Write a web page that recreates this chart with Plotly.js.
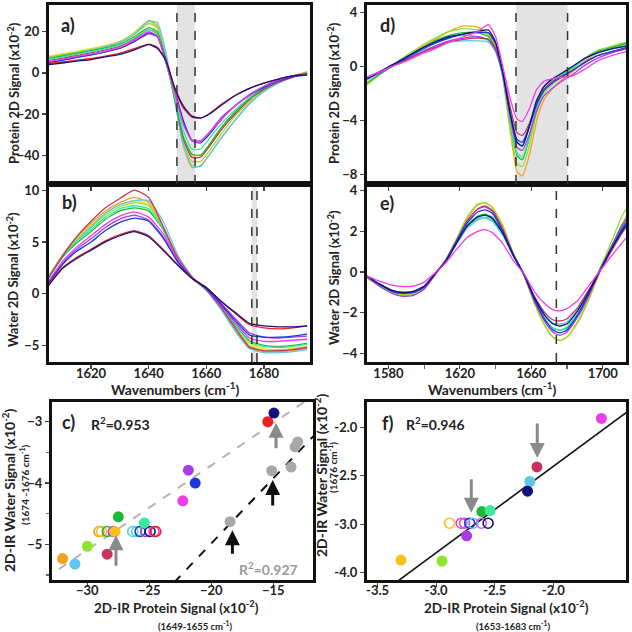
<!DOCTYPE html>
<html><head><meta charset="utf-8">
<script src="https://cdn.plot.ly/plotly-3.0.1.min.js"></script>
<style>html,body{margin:0;padding:0;background:#fff}#chart{width:632px;height:632px}</style>
</head><body><div id="chart"></div>
<script>
// ---------- Panel a: protein spectra (x10^-2) ----------
const A_X = [1605,1610,1615,1620,1625,1630,1635,1640,1643,1646,1649,1652,1655,1658,1661,1665,1670,1675,1680,1685,1690,1695];
const A_orange = [7.5,8.7,10,11.3,13,15.2,19.5,25.5,23,7,-13,-35,-46,-45,-40,-32,-23,-15,-9,-5,-2,0.5];
const A_lightblue = [7,8.3,9.6,11,12.6,14.8,19,25,24.5,10,-13,-35,-45,-45.5,-40,-32,-23,-15,-9,-5,-2,0];
const A_lime = [7.5,8.7,10,11.3,12.8,14.6,18.5,24,22,8,-13,-34,-43,-43,-38,-30,-21,-14,-8.5,-4.5,-1.5,0.5];
const A_yellow = [8,9.2,10.5,11.8,13.3,15.3,19.5,25,22,7,-12,-31,-40,-40,-35,-27,-19,-12.5,-7.5,-4,-1.5,0.5];
const A_crimson = [6,7.2,8.5,9.8,11.2,13,16.5,21,19,6,-12,-32,-41,-41,-36,-28,-20,-13,-8,-4.5,-2,0];
const A_green = [7,8.2,9.5,10.8,12.2,14,17.5,22,20,6,-12,-31,-39.5,-40,-35,-27,-19,-12.5,-7.5,-4,-1.5,0];
const A_spring = [6.5,7.7,9,10.3,11.7,13.5,17,21,19,5,-11,-28,-37,-37,-32,-25,-18,-12,-7,-4,-1.5,0];
const A_magenta = [5.5,6.7,8,9.2,10.6,12.4,15.8,20,18,5,-9,-25,-33,-33.5,-29,-23,-16,-11,-6.5,-3.5,-1.5,-0.5];
const A_purple = [5,6.2,7.5,8.8,10.2,12,15.2,19,17.5,5,-9,-24,-32.5,-33,-29,-22,-16,-10.5,-6.5,-3.5,-1.5,-0.5];
const A_blue = [5,6.2,7.5,8.8,10.2,12,15.3,19.5,18,6,-8,-23,-33,-34,-30,-23,-16,-11,-7,-4,-2,-1];
const A_red = [4.5,5.3,6.2,7,8.2,9.5,11.8,14,12.5,6,-8,-17,-21.5,-22,-20,-15.5,-11,-7.5,-5,-3,-1.5,-0.5];
const A_navy = [4,4.8,5.7,6.5,7.8,9,11.2,13.7,12,6,-7,-16,-21,-22,-20,-16,-11,-7.5,-5,-3,-1.5,-1];

// ---------- Panel b: water spectra ----------
const B_X = [1605,1610,1615,1620,1625,1630,1635,1640,1645,1650,1655,1660,1665,1670,1675,1680,1685,1690,1695];
const B_crimson = [1.4,3.6,5.5,7,8.3,9.2,10,9.3,6.5,3.5,1.6,0.4,-1.3,-3.3,-5.16,-5.5,-5.5,-5.4,-5.2];
const B_orange = [1.5,3.7,5.4,6.8,8,8.8,9.3,8.8,6.5,3.6,1.7,0.4,-1.4,-3.5,-5.23,-5.6,-5.6,-5.5,-5.3];
const B_lightblue = [1.4,3.5,5.1,6.5,7.8,8.6,9,9,7,3.8,1.6,0.3,-1.5,-3.6,-5.32,-5.7,-5.7,-5.6,-5.4];
const B_yellow = [1.6,3.7,5.3,6.6,7.8,8.6,9,8.6,6.4,3.5,1.6,0.4,-1.3,-3.3,-4.8,-5.3,-5.4,-5.3,-5.1];
const B_lime = [1.5,3.6,5.2,6.4,7.6,8.4,8.8,8.5,6.3,3.4,1.6,0.4,-1.3,-3.3,-5.03,-5.5,-5.5,-5.4,-5.2];
const B_green = [1.5,3.5,4.9,6,7.2,8,8.3,8,6.2,3.4,1.5,0.4,-1.2,-3,-4.55,-5,-5.1,-5,-4.8];
const B_spring = [1.6,3.6,5.1,6.2,7.4,8.2,8.5,8.2,6.2,3.4,1.5,0.4,-1.2,-3.1,-4.65,-5.1,-5.2,-5.1,-4.9];
const B_magenta = [1.1,3.1,4.5,5.6,6.7,7.5,7.9,7.4,5.8,3.3,1.5,0.5,-1.1,-2.8,-4.29,-4.6,-4.6,-4.5,-4.4];
const B_purple = [1,2.9,4.3,5.3,6.4,7.2,7.6,7.1,5.5,3.2,1.5,0.5,-0.9,-2.4,-3.79,-4.2,-4.3,-4.2,-4.1];
const B_blue = [0.9,2.8,4.1,5,6.1,6.9,7.3,7,5.4,3.1,1.5,0.5,-1,-2.6,-4.0,-4.2,-4.2,-4.1,-3.9];
const B_red = [0.8,2.5,3.5,4.3,5.1,5.7,6.1,5.6,4.3,2.8,1.5,0.6,-0.7,-1.9,-3.0,-3.3,-3.4,-3.3,-3.1];
const B_navy = [0.7,2.4,3.4,4.2,5,5.6,6,5.5,4.2,2.8,1.5,0.6,-0.7,-1.8,-2.86,-3.1,-3.2,-3.2,-3.1];

// ---------- Panel c: correlation ----------
const C_fill_x = [-32.0,-31.0,-30.0,-28.4,-27.5,-25.4,-22.3,-21.85,-21.3,-15.45,-14.95,-27.77];
const C_fill_y = [-5.23,-5.32,-5.03,-5.16,-4.55,-4.65,-4.29,-3.79,-4.0,-3.0,-2.86,-4.79];
const C_fill_c = ['orange','lightblue','lime','crimson','green','spring','magenta','purple','blue','red','navy','gold'];
const C_open_x = [-29.06,-28.84,-28.39,-27.9,-26.34,-26.02,-25.75,-25.29,-24.94,-24.62,-24.48];
const C_open_y = [-4.79,-4.79,-4.79,-4.79,-4.79,-4.79,-4.79,-4.79,-4.79,-4.79,-4.79];
const C_open_c = ['orange','gold','green','purple','lightblue','spring','blue','purple','navy','magenta','red'];
const C_gray_x = [-13.03,-13.25,-15.13,-13.57,-18.49];
const C_gray_y = [-3.33,-3.41,-3.80,-3.74,-4.63];
const C_fitGray_x = [-33.5,-12.0];
const C_fitGray_y = [-5.57,-2.61];
const C_fitBlack_x = [-23.0,-11.5];
const C_fitBlack_y = [-5.62,-3.18];
const C_arrow_x = [-27.69,-14.78,-15.05,-18.3];
const C_arrow_y = [-4.85,-3.02,-3.95,-4.77];

// ---------- Panel d: protein spectra ----------
const D_X = [1568,1575,1582,1590,1598,1606,1614,1622,1630,1636,1640,1644,1648,1652,1655,1659,1663,1667,1672,1677,1683,1690,1697,1705,1713];
const D_orange = [-1.3,-0.6,0,0.7,1.4,2.0,2.6,3.0,2.9,2.4,1.6,-0.8,-4.6,-7.8,-8.1,-6.5,-4,-2.5,-1.6,-1.0,-0.4,0.4,1.0,1.4,1.7];
const D_lime = [-1.4,-0.6,0.1,0.8,1.5,2.1,2.6,2.8,2.7,2.3,1.4,-0.7,-4.3,-7.2,-7.4,-5.8,-3.4,-2.0,-1.3,-0.7,-0.2,0.6,1.2,1.5,1.8];
const D_green = [-1.2,-0.6,0,0.7,1.3,1.9,2.3,2.5,2.5,2.2,1.3,-0.6,-4.0,-6.6,-6.9,-5.2,-3.0,-1.8,-1.1,-0.6,-0.1,0.6,1.1,1.4,1.7];
const D_spring = [-1.0,-0.5,0.1,0.7,1.3,1.8,2.2,2.3,2.2,1.9,1.1,-0.7,-4.0,-6.4,-6.7,-5.1,-2.9,-1.8,-1.1,-0.6,-0.1,0.6,1.0,1.3,1.6];
const D_purple = [-0.9,-0.5,0,0.5,1.0,1.5,1.9,2.1,2.2,2.0,1.2,-0.6,-3.6,-6.0,-6.2,-5.0,-3.3,-2.2,-1.6,-1.1,-0.6,0.1,0.6,1.0,1.3];
const D_navy = [-0.9,-0.4,0.1,0.7,1.3,1.8,2.2,2.4,2.6,2.7,1.8,-0.4,-3.4,-5.6,-5.9,-4.4,-2.5,-1.5,-0.9,-0.5,0,0.6,1.0,1.3,1.5];
const D_blue = [-0.9,-0.4,0.1,0.6,1.2,1.7,2.1,2.4,2.5,2.5,1.7,-0.5,-3.3,-5.4,-5.6,-4.4,-2.8,-1.8,-1.2,-0.8,-0.3,0.3,0.8,1.1,1.4];
const D_lightblue = [-1.0,-0.5,0,0.6,1.1,1.5,1.8,1.9,1.9,1.8,1.1,-0.6,-3.4,-5.6,-5.8,-4.3,-2.5,-1.5,-0.9,-0.5,0,0.6,1.0,1.3,1.5];
const D_crimson = [-0.8,-0.4,0.1,0.5,1.0,1.4,1.8,2.0,2.1,2.0,1.3,-0.4,-2.9,-4.9,-5.1,-4.2,-2.7,-1.7,-1.1,-0.7,-0.3,0.3,0.8,1.1,1.3];
const D_magenta = [-0.8,-0.4,0,0.4,0.9,1.3,1.8,2.2,2.6,3.1,2.2,0,-2.3,-3.9,-4.07,-3.1,-1.7,-1.1,-0.9,-0.8,-0.7,-0.2,0.4,0.8,1.1];

// ---------- Panel e: water spectra ----------
const E_X = [1568,1575,1582,1588,1594,1600,1606,1612,1618,1624,1630,1634,1638,1644,1650,1656,1662,1668,1672,1676,1680,1686,1692,1698,1704,1710,1713];
const E_orange = [-0.3,-0.7,-1.0,-1.15,-1.1,-0.8,-0.1,0.6,1.6,2.6,3.3,3.4,3.2,2.3,0.9,-0.2,-1.6,-2.7,-3.2,-3.37,-3.2,-2.5,-1.4,-0.1,1.0,2.2,2.7];
const E_lime = [-0.3,-0.7,-1.0,-1.1,-1.05,-0.8,-0.1,0.6,1.6,2.7,3.35,3.4,3.2,2.2,0.85,-0.2,-1.6,-2.7,-3.2,-3.38,-3.2,-2.4,-1.3,0.1,1.3,2.6,3.1];
const E_purple = [-0.25,-0.7,-1.05,-1.2,-1.15,-0.85,-0.15,0.55,1.5,2.5,3.1,3.2,3.0,2.1,0.85,-0.15,-1.5,-2.5,-2.95,-3.12,-2.95,-2.2,-1.2,0,1.1,2.2,2.6];
const E_blue = [-0.2,-0.6,-0.95,-1.05,-1.0,-0.75,-0.1,0.55,1.5,2.4,2.95,3.06,2.9,2.0,0.85,-0.15,-1.4,-2.4,-2.85,-3.0,-2.85,-2.1,-1.1,0,1.0,2.0,2.4];
const E_navy = [-0.2,-0.6,-0.9,-1.0,-0.95,-0.7,-0.1,0.5,1.4,2.25,2.7,2.8,2.65,1.9,0.8,-0.15,-1.3,-2.2,-2.55,-2.66,-2.55,-1.9,-1.0,0,1.0,1.9,2.3];
const E_green = [-0.25,-0.65,-0.95,-1.05,-1.0,-0.75,-0.1,0.55,1.45,2.3,2.75,2.85,2.7,1.95,0.85,-0.15,-1.4,-2.4,-2.75,-2.87,-2.75,-2.1,-1.1,0.05,1.1,2.1,2.5];
const E_spring = [-0.25,-0.65,-0.95,-1.05,-1.0,-0.75,-0.1,0.55,1.45,2.25,2.6,2.7,2.55,1.85,0.8,-0.15,-1.4,-2.35,-2.75,-2.86,-2.7,-2.05,-1.05,0.05,1.05,2.0,2.4];
const E_lightblue = [-0.2,-0.6,-0.9,-1.0,-0.95,-0.7,-0.1,0.5,1.35,2.15,2.55,2.65,2.5,1.8,0.75,-0.15,-1.3,-2.15,-2.5,-2.56,-2.45,-1.85,-0.95,0,0.95,1.85,2.2];
const E_crimson = [-0.2,-0.6,-0.9,-1.0,-0.95,-0.7,-0.1,0.55,1.5,2.5,3.1,3.25,3.05,2.1,0.8,-0.15,-1.25,-2.05,-2.35,-2.41,-2.3,-1.75,-0.9,0,0.9,1.8,2.2];
const E_magenta = [-0.2,-0.45,-0.65,-0.72,-0.7,-0.5,-0.05,0.45,1.1,1.7,2.0,2.08,1.95,1.4,0.55,-0.1,-1.0,-1.6,-1.85,-1.91,-1.8,-1.4,-0.7,0,0.7,1.35,1.67];

// ---------- Panel f: correlation ----------
const F_fill_x = [-1.59,-2.14,-2.20,-2.22,-2.61,-2.54,-2.74,-3.30,-2.95];
const F_fill_y = [-1.91,-2.41,-2.56,-2.66,-2.87,-2.86,-3.12,-3.37,-3.38];
const F_fill_c = ['magenta','crimson','lightblue','navy','green','spring','purple','gold','lime'];
const F_open_x = [-2.886,-2.786,-2.757,-2.714,-2.686,-2.614,-2.557];
const F_open_y = [-2.99,-2.99,-2.99,-2.99,-2.99,-2.99,-2.99];
const F_open_c = ['gold','magenta','pink','blue','lightblue','violet','navy'];
const F_fit_x = [-3.6,-1.3];
const F_fit_y = [-3.83,-1.78];
const F_arrow_x = [-2.70,-2.137];
const F_arrow_y = [-2.883,-2.317];
const F_xtickvals = [-3.5,-3.0,-2.5,-2.0];
const F_xticktext = ['-3.5','-3.0','-2.5','-2.0'];
const F_ytickvals = [-2.0,-2.5,-3.0,-3.5];
const F_yticktext = ['-2.0','-2.5','-3.0','-4.0'];

// ---------- marked regions (cm^-1) ----------
const bandA = [1649.8,1656.1];
const bandB = [1675.8,1677.6];
const bandD = [1651.4,1680.3];
const lineE = [1674];

// ---------- styles ----------
const COL = {orange:'#f5a11c', lightblue:'#5cc8ee', lime:'#8fe32c', yellow:'#eed81c', gold:'#f7c21a',
  crimson:'#c8325e', green:'#1cb836', spring:'#3de89c', magenta:'#ee3ce8', purple:'#a93ce4',
  blue:'#1a38e2', red:'#ee2020', navy:'#12127a', pink:'#f04aa8', violet:'#c266e8'};
const FONT = 'Lato, "Open Sans", sans-serif';
const traces = [];
function spectra(xs, list, xa, ya){
  list.forEach(([c, ys]) => traces.push({x:xs, y:ys, type:'scatter', mode:'lines', xaxis:xa, yaxis:ya,
    line:{color:COL[c], width:1.3, shape:'spline', smoothing:0.5}, hoverinfo:'skip', showlegend:false}));
}
spectra(A_X, [['orange',A_orange],['yellow',A_yellow],['lime',A_lime],['lightblue',A_lightblue],['crimson',A_crimson],['green',A_green],['spring',A_spring],['purple',A_purple],['blue',A_blue],['magenta',A_magenta],['red',A_red],['navy',A_navy]], 'x','y');
spectra(B_X, [['orange',B_orange],['yellow',B_yellow],['lime',B_lime],['lightblue',B_lightblue],['green',B_green],['spring',B_spring],['crimson',B_crimson],['purple',B_purple],['magenta',B_magenta],['blue',B_blue],['red',B_red],['navy',B_navy]], 'x2','y2');
spectra(D_X, [['orange',D_orange],['lime',D_lime],['green',D_green],['spring',D_spring],['lightblue',D_lightblue],['purple',D_purple],['crimson',D_crimson],['blue',D_blue],['navy',D_navy],['magenta',D_magenta]], 'x4','y4');
spectra(E_X, [['orange',E_orange],['lime',E_lime],['green',E_green],['spring',E_spring],['lightblue',E_lightblue],['purple',E_purple],['crimson',E_crimson],['blue',E_blue],['navy',E_navy],['magenta',E_magenta]], 'x5','y5');

// panel c
traces.push({x:C_fitGray_x, y:C_fitGray_y, mode:'lines', type:'scatter', xaxis:'x3', yaxis:'y3', line:{color:'#b4b4b4', width:2, dash:'dash'}, hoverinfo:'skip'});
traces.push({x:C_fitBlack_x, y:C_fitBlack_y, mode:'lines', type:'scatter', xaxis:'x3', yaxis:'y3', line:{color:'#111', width:2, dash:'dash'}, hoverinfo:'skip'});
traces.push({x:C_gray_x, y:C_gray_y, mode:'markers', type:'scatter', xaxis:'x3', yaxis:'y3', marker:{color:'#a8a8a8', size:11}, hoverinfo:'skip'});
traces.push({x:C_open_x, y:C_open_y, mode:'markers', type:'scatter', xaxis:'x3', yaxis:'y3', marker:{symbol:'circle-open', color:C_open_c.map(c=>COL[c]), size:10, line:{width:1.6}}, hoverinfo:'skip'});
traces.push({x:C_fill_x, y:C_fill_y, mode:'markers', type:'scatter', xaxis:'x3', yaxis:'y3', marker:{color:C_fill_c.map(c=>COL[c]), size:11}, hoverinfo:'skip'});
// panel f
traces.push({x:F_fit_x, y:F_fit_y, mode:'lines', type:'scatter', xaxis:'x6', yaxis:'y6', line:{color:'#111', width:1.6}, hoverinfo:'skip'});
traces.push({x:F_open_x, y:F_open_y, mode:'markers', type:'scatter', xaxis:'x6', yaxis:'y6', marker:{symbol:'circle-open', color:F_open_c.map(c=>COL[c]), size:10, line:{width:1.6}}, hoverinfo:'skip'});
traces.push({x:F_fill_x, y:F_fill_y, mode:'markers', type:'scatter', xaxis:'x6', yaxis:'y6', marker:{color:F_fill_c.map(c=>COL[c]), size:11}, hoverinfo:'skip'});

const W = 632, H = 632;
const px = v => v / W, py = v => 1 - v / H;
const tf = {family:FONT, size:13, color:'#222', weight:'bold'};
function ax(extra){ return Object.assign({showline:true, mirror:true, linewidth:3, linecolor:'#111', ticks:'outside', ticklen:4, tickwidth:1.2, tickcolor:'#444', showgrid:false, zeroline:false, tickfont:tf, fixedrange:true}, extra); }
const XL = [px(49), px(310)], XC = [px(52), px(313)], XR = [px(367), px(626)];
const YT = [py(184), py(5)], YM = [py(362), py(184)], YB = [py(580), py(402)];

const layout = {
  width:W, height:H, margin:{l:0,r:0,t:0,b:0}, paper_bgcolor:'#fff', plot_bgcolor:'#fff', showlegend:false,
  xaxis: ax({domain:XL, range:[1605.4,1696], anchor:'y', showticklabels:false, dtick:20, tick0:1620}),
  yaxis: ax({domain:YT, range:[-54,33], anchor:'x', dtick:20, tick0:0}),
  xaxis2: ax({domain:XL, range:[1605.4,1696], anchor:'y2', dtick:20, tick0:1620, ticklabelstandoff:-7}),
  yaxis2: ax({domain:YM, range:[-6.6,10.6], anchor:'x2', dtick:5, tick0:0}),
  xaxis3: ax({domain:XC, range:[-32.85,-11.8], anchor:'y3', dtick:5, tick0:-30, ticklabelstandoff:-8}),
  yaxis3: ax({domain:YB, range:[-5.58,-2.68], anchor:'x3', dtick:1, tick0:-3, minor:{dtick:0.5, ticks:'outside', ticklen:3, tickcolor:'#666'}}),
  xaxis4: ax({domain:XR, range:[1568,1713], anchor:'y4', showticklabels:false, dtick:40, tick0:1580}),
  yaxis4: ax({domain:YT, range:[-8.7,4.55], anchor:'x4', dtick:4, tick0:0}),
  xaxis5: ax({domain:XR, range:[1568,1713], anchor:'y5', dtick:40, tick0:1580, ticklabelstandoff:-7, minor:{dtick:20, ticks:'outside', ticklen:4, tickcolor:'#666'}}),
  yaxis5: ax({domain:YM, range:[-4.43,4.33], anchor:'x5', dtick:2, tick0:0}),
  xaxis6: ax({domain:XR, range:[-3.59,-1.38], anchor:'y6', tickvals:F_xtickvals, ticktext:F_xticktext, ticklabelstandoff:-8}),
  yaxis6: ax({domain:YB, range:[-3.576,-1.74], anchor:'x6', tickvals:F_ytickvals, ticktext:F_yticktext}),
  shapes: [], annotations: []
};
function band(xr, ya, xref, fill){
  if (fill) layout.shapes.push({type:'rect', xref:xref, yref:ya+' domain', x0:xr[0], x1:xr[xr.length-1], y0:0, y1:1, fillcolor:'#e3e3e3', line:{width:0}, layer:'below'});
  xr.forEach(v => layout.shapes.push({type:'line', xref:xref, yref:ya+' domain', x0:v, x1:v, y0:0, y1:1, line:{color:'#333', width:1.5, dash:'dash'}}));
}
band(bandA, 'y', 'x', true);
band(bandB, 'y2', 'x2', true);
band(bandD, 'y4', 'x4', true);
band(lineE, 'y5', 'x5', false);

function txt(t, x, y, size, opts){ layout.annotations.push(Object.assign({text:t, x:px(x), y:py(y), xref:'paper', yref:'paper', showarrow:false, xanchor:'center', yanchor:'middle', font:{family:FONT, size:size, color:'#222', weight:'bold'}}, opts||{})); }
// panel labels
txt('a)', 68, 25, 18); txt('b)', 69, 202, 18); txt('c)', 68, 422, 18);
txt('d)', 387, 25, 18); txt('e)', 387, 203, 18); txt('f)', 388, 423, 18);
txt('R<sup>2</sup>=0.953', 120, 423, 14); txt('R<sup>2</sup>=0.946', 435, 423, 14);
txt('R<sup>2</sup>=0.927', 268, 568, 14, {font:{family:FONT, size:14, color:'#9a9a9a', weight:'bold'}});
// axis titles
txt('Protein 2D Signal (x10<sup>-2</sup>)', 13, 93, 13, {textangle:-90});
txt('Water 2D Signal (x10<sup>-2</sup>)', 13, 280, 13, {textangle:-90});
txt('Protein 2D Signal (x10<sup>-2</sup>)', 333, 93, 13, {textangle:-90});
txt('Water 2D Signal (x10<sup>-2</sup>)', 333, 278, 13, {textangle:-90});
txt('Wavenumbers (cm<sup>-1</sup>)', 175, 388, 14);
txt('Wavenumbers (cm<sup>-1</sup>)', 492, 388, 14);
txt('2D-IR Water Signal (x10<sup>-2</sup>)', 8, 490, 14, {textangle:-90});
txt('(1674 -1676 cm<sup>-1</sup>)', 24, 485, 10, {textangle:-90});
txt('2D-IR Water Signal (x10<sup>-2</sup>)', 320, 475, 14, {textangle:-90});
txt('(1676 cm<sup>-1</sup>)', 333, 468, 10, {textangle:-90});
txt('2D-IR Protein Signal (x10<sup>-2</sup>)', 176, 607, 13.5);
txt('(1649-1655 cm<sup>-1</sup>)', 195, 625, 9.5);
txt('2D-IR Protein Signal (x10<sup>-2</sup>)', 507, 607, 13.5);
txt('(1653-1683 cm<sup>-1</sup>)', 513, 625, 9.5);
// arrows
const arrowColC = ['#8a8a8a','#8a8a8a','#111','#111'];
const arrowLenC = [32,27,27,25];
C_arrow_x.forEach((x,i) => layout.annotations.push({x:x, y:C_arrow_y[i], xref:'x3', yref:'y3', ax:0, ay:arrowLenC[i], text:'', showarrow:true, arrowhead:2, arrowsize:1, arrowwidth:3, arrowcolor:arrowColC[i], standoff:0}));
const arrowLenF = [-35,-36];
F_arrow_x.forEach((x,i) => layout.annotations.push({x:x, y:F_arrow_y[i], xref:'x6', yref:'y6', ax:0, ay:arrowLenF[i], text:'', showarrow:true, arrowhead:2, arrowsize:1, arrowwidth:3, arrowcolor:'#8a8a8a', standoff:0}));

Plotly.newPlot('chart', traces, layout, {staticPlot:true, displayModeBar:false});
</script></body></html>
